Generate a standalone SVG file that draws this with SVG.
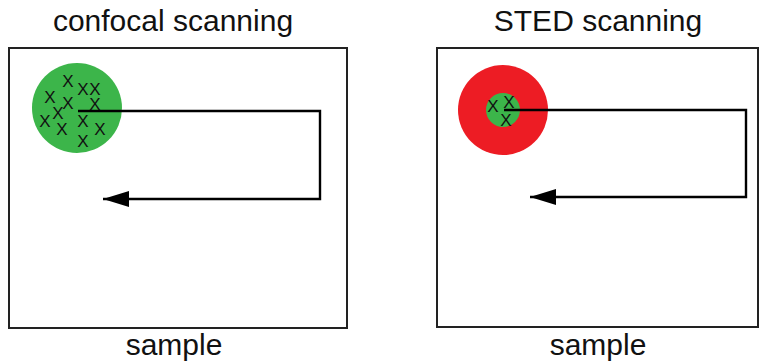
<svg xmlns="http://www.w3.org/2000/svg" width="760" height="362" viewBox="0 0 760 362">
<style>
.t{font-family:"Liberation Sans",Arial,sans-serif;font-size:30px;fill:#111;text-anchor:middle}
.x{font-family:"Liberation Sans",Arial,sans-serif;font-size:17px;fill:#111;text-anchor:middle}
.box{fill:#fff;stroke:#222;stroke-width:2}
.path{fill:none;stroke:#000;stroke-width:2.4}
</style>
<defs>
<marker id="ah" markerWidth="28" markerHeight="18" refX="26" refY="9" orient="auto" markerUnits="userSpaceOnUse">
<polygon points="0,1 26,9 0,17" fill="#000"/>
</marker>
</defs>
<rect width="760" height="362" fill="#fff"/>
<g id="confocal">
<text class="t" x="173" y="31">confocal scanning</text>
<rect class="box" x="9" y="48" width="338" height="280"/>
<circle cx="77" cy="108" r="45" fill="#3cb54a"/>
<g class="x">
<text x="68" y="87">X</text>
<text x="83" y="95">X</text>
<text x="95" y="95">X</text>
<text x="50" y="103">X</text>
<text x="68" y="109">X</text>
<text x="95" y="110">X</text>
<text x="58" y="119">X</text>
<text x="45" y="127">X</text>
<text x="83" y="127">X</text>
<text x="62" y="135">X</text>
<text x="100" y="135">X</text>
<text x="83" y="147">X</text>
</g>
<text class="t" x="174" y="355">sample</text>
</g>
<g id="sted">
<text class="t" x="598" y="31">STED scanning</text>
<rect class="box" x="437" y="48" width="321" height="279"/>
<circle cx="503" cy="110" r="45" fill="#ed1c24"/>
<circle cx="503" cy="110" r="17" fill="#3cb54a"/>
<g class="x">
<text x="493" y="112">X</text>
<text x="509" y="108">X</text>
<text x="506" y="126">X</text>
</g>
<text class="t" x="598" y="355">sample</text>
</g>
<g id="connectors">
<polyline class="path" points="78,111 320,111 320,199 103,199" marker-end="url(#ah)"/>
<polyline class="path" points="504,110 746,110 746,197 530,197" marker-end="url(#ah)"/>
</g>
</svg>
